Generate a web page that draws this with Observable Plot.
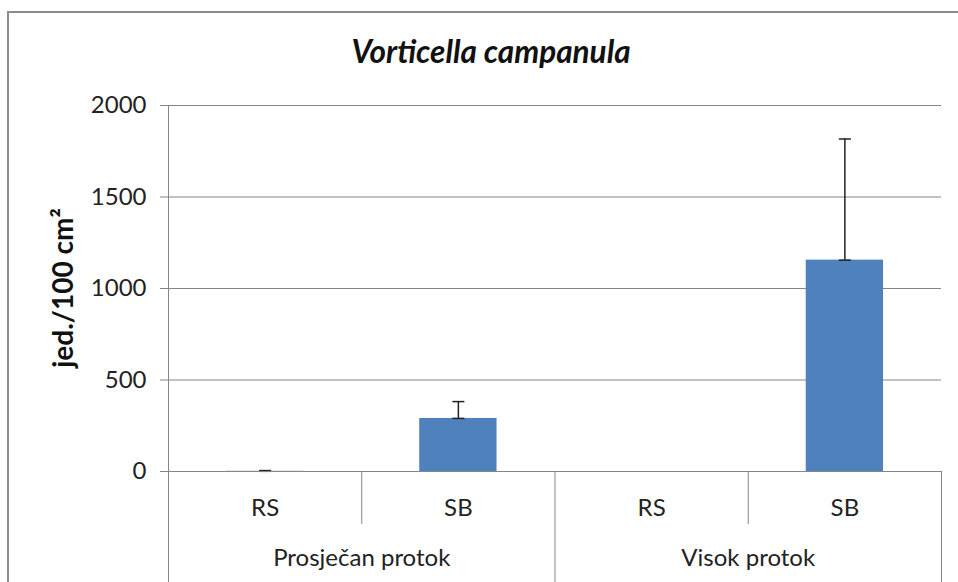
<!DOCTYPE html>
<html><head><meta charset="utf-8">
<script src="https://cdn.jsdelivr.net/npm/d3@7"></script>
<script src="https://cdn.jsdelivr.net/npm/@observablehq/plot@0.6"></script>
<style>
body{margin:0;background:#fff;font-family:Lato,"Open Sans",sans-serif}
#wrap{position:relative;width:958px;height:582px;overflow:hidden;background:#fff}
#frame{position:absolute;left:7px;top:11px;width:1000px;height:1000px;border-left:2px solid #8c8c8c;border-top:2px solid #8c8c8c;box-sizing:border-box}
#title{position:absolute;top:33px;left:0;width:982px;text-align:center;font-style:italic;font-weight:700;font-size:31.5px;line-height:36px;color:#111}
#ylab{position:absolute;left:62px;top:288px;transform:translate(-50%,-50%) rotate(-90deg);white-space:nowrap;font-weight:700;font-size:28px;color:#111}
#chart{position:absolute;left:0;top:0}
</style></head>
<body>
<div id="wrap">
  <div id="frame"></div>
  <div id="title">Vorticella campanula</div>
  <div id="ylab">jed./100 cm²</div>
  <div id="chart"></div>
</div>
<script>
const groupNames = ["Prosječan protok", "Visok protok"];
const sites = ["RS", "SB", "RS", "SB"];
const groupOf = [0, 0, 1, 1];
const means = [1, 290, 0, 1155];
const errors = [4, 92, 0, 662];
const yTicks = [0, 500, 1000, 1500, 2000];

const rows = sites.map((s, i) => ({i, site: s, group: groupNames[groupOf[i]], mean: means[i], err: errors[i]}));
const errRows = rows.filter(d => d.mean > 0 || d.err > 0);
const centers = rows.map(d => d.i + 0.5);
const innerBounds = [1, 3];
const groupBounds = [0, 2, 4];
const groupCenters = [1, 3];

const cap = {draw(ctx, size) { const w = Math.sqrt(size / Math.PI); ctx.moveTo(-w, 0); ctx.lineTo(w, 0); }};

const gray = "#868686";
const txt = "#222";

const chart = Plot.plot({
  width: 958,
  height: 582,
  marginLeft: 168,
  marginRight: 17,
  marginTop: 105,
  marginBottom: 111,
  style: {fontFamily: "Lato, 'Open Sans', sans-serif", background: "transparent", overflow: "visible"},
  x: {type: "linear", domain: [0, 4], axis: null},
  y: {domain: [0, 2000], axis: null},
  marks: [
    Plot.gridY(yTicks, {stroke: gray, strokeOpacity: 1, strokeWidth: 1}),
    Plot.ruleX([0], {stroke: gray, strokeWidth: 1}),
    Plot.rectY(rows, {x1: d => d.i + 0.3, x2: d => d.i + 0.7, y1: 0, y2: "mean", fill: "#4F81BD"}),
    Plot.ruleX(errRows, {x: d => d.i + 0.5, y1: "mean", y2: d => d.mean + d.err, stroke: "#222", strokeWidth: 1.5}),
    Plot.dot(errRows, {x: d => d.i + 0.5, y: "mean", symbol: cap, r: 6, stroke: "#222", strokeWidth: 1.5}),
    Plot.dot(errRows, {x: d => d.i + 0.5, y: d => d.mean + d.err, symbol: cap, r: 6, stroke: "#222", strokeWidth: 1.5}),
    Plot.axisY({ticks: yTicks, label: null, tickSize: 8, tickPadding: 14, fontSize: 24, stroke: gray, fill: txt, tickFormat: d => String(d)}),
    Plot.axisX({ticks: innerBounds, label: null, tickSize: 53, tickFormat: () => "", stroke: gray}),
    Plot.axisX({ticks: groupBounds, label: null, tickSize: 111, tickFormat: () => "", stroke: gray}),
    Plot.axisX({ticks: centers, label: null, tickSize: 0, tickPadding: 27, fontSize: 24, fill: txt, tickFormat: (d, k) => sites[k]}),
    Plot.axisX({ticks: groupCenters, label: null, tickSize: 0, tickPadding: 77, fontSize: 24, fill: txt, tickFormat: (d, k) => groupNames[k]}),
    Plot.ruleY([0], {stroke: gray, strokeWidth: 1})
  ]
});
document.getElementById("chart").appendChild(chart);
</script>
</body></html>
